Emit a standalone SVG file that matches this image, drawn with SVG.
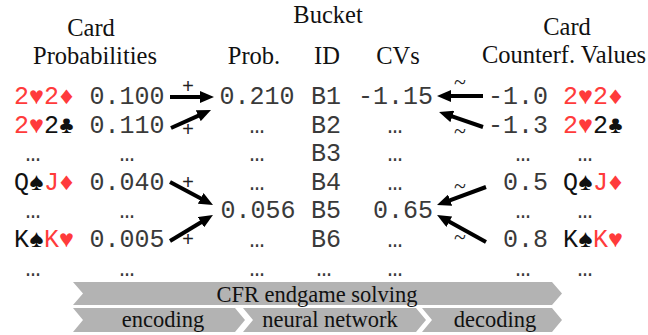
<svg xmlns="http://www.w3.org/2000/svg" width="648" height="335" viewBox="0 0 648 335">
<defs>
<style>
.hd{font-family:"Liberation Serif","Times New Roman",serif;font-size:24.5px;fill:#111;text-anchor:middle}
.mn{font-family:"Liberation Mono","Courier New","DejaVu Sans Mono",monospace;font-size:25px;fill:#3a3a3a}
.c{text-anchor:middle}
.e{text-anchor:end}
.r{fill:#ff3b3b}
.k{fill:#111}
.op{font-family:"Liberation Mono","Courier New",monospace;font-size:20px;fill:#222;text-anchor:middle}
.td{font-family:"Liberation Serif","Times New Roman",serif;font-size:22px;fill:#222;text-anchor:middle}
.ar{stroke:#000;stroke-width:4;fill:none;marker-end:url(#ah)}
.band{fill:#b3b3b3}
.bt{font-family:"Liberation Serif","Times New Roman",serif;font-size:22.5px;fill:#111;text-anchor:middle}
</style>
<marker id="ah" viewBox="0 0 14 12" refX="4" refY="6" markerWidth="14" markerHeight="12" markerUnits="userSpaceOnUse" orient="auto">
<path d="M0,0 L14,6 L0,12 z" fill="#000"/>
</marker>
</defs>
<rect width="648" height="335" fill="#fff"/>

<g id="headers">
<text class="hd" x="91" y="36">Card</text>
<text class="hd" x="95" y="64">Probabilities</text>
<text class="hd" x="328" y="23">Bucket</text>
<text class="hd" x="254" y="64">Prob.</text>
<text class="hd" x="327" y="64">ID</text>
<text class="hd" x="398" y="64">CVs</text>
<text class="hd" x="567" y="35">Card</text>
<text class="hd" x="564" y="63">Counterf. Values</text>
</g>

<g id="card-probabilities">
<text class="mn" x="14" y="104"><tspan class="r">2♥2♦</tspan></text>
<text class="mn c" x="127" y="104">0.100</text>
<text class="mn" x="14" y="132.6"><tspan class="r">2♥</tspan><tspan class="k">2♣</tspan></text>
<text class="mn c" x="127" y="132.6">0.110</text>
<text class="mn c" x="33" y="161.2">…</text>
<text class="mn c" x="127" y="161.2">…</text>
<text class="mn" x="14" y="189.8"><tspan class="k">Q♠</tspan><tspan class="r">J♦</tspan></text>
<text class="mn c" x="127" y="189.8">0.040</text>
<text class="mn c" x="33" y="218.4">…</text>
<text class="mn c" x="127" y="218.4">…</text>
<text class="mn" x="14" y="247"><tspan class="k">K♠</tspan><tspan class="r">K♥</tspan></text>
<text class="mn c" x="127" y="247">0.005</text>
<text class="mn c" x="33" y="275.6">…</text>
<text class="mn c" x="127" y="275.6">…</text>
</g>

<g id="bucket-prob">
<text class="mn c" x="257" y="104">0.210</text>
<text class="mn c" x="257" y="132.6">…</text>
<text class="mn c" x="257" y="161.2">…</text>
<text class="mn c" x="257" y="189.8">…</text>
<text class="mn c" x="258" y="218.4">0.056</text>
<text class="mn c" x="257" y="247">…</text>
<text class="mn c" x="257" y="275.6">…</text>
</g>

<g id="bucket-id">
<text class="mn" x="311" y="104">B1</text>
<text class="mn" x="311" y="132.6">B2</text>
<text class="mn" x="311" y="161.2">B3</text>
<text class="mn" x="311" y="189.8">B4</text>
<text class="mn" x="311" y="218.4">B5</text>
<text class="mn" x="311" y="247">B6</text>
<text class="mn c" x="324" y="275.6">…</text>
</g>

<g id="bucket-cvs">
<text class="mn e" x="433" y="104">-1.15</text>
<text class="mn c" x="395" y="132.6">…</text>
<text class="mn c" x="395" y="161.2">…</text>
<text class="mn c" x="395" y="189.8">…</text>
<text class="mn e" x="433" y="218.4">0.65</text>
<text class="mn c" x="395" y="247">…</text>
<text class="mn c" x="395" y="275.6">…</text>
</g>

<g id="card-values">
<text class="mn e" x="548" y="104">-1.0</text>
<text class="mn" x="563" y="104"><tspan class="r">2♥2♦</tspan></text>
<text class="mn e" x="548" y="132.6">-1.3</text>
<text class="mn" x="563" y="132.6"><tspan class="r">2♥</tspan><tspan class="k">2♣</tspan></text>
<text class="mn c" x="523" y="161.2">…</text>
<text class="mn c" x="585" y="161.2">…</text>
<text class="mn e" x="548" y="189.8">0.5</text>
<text class="mn" x="563" y="189.8"><tspan class="k">Q♠</tspan><tspan class="r">J♦</tspan></text>
<text class="mn c" x="523" y="218.4">…</text>
<text class="mn c" x="585" y="218.4">…</text>
<text class="mn e" x="548" y="247">0.8</text>
<text class="mn" x="563" y="247"><tspan class="k">K♠</tspan><tspan class="r">K♥</tspan></text>
<text class="mn c" x="523" y="275.6">…</text>
<text class="mn c" x="585" y="275.6">…</text>
</g>

<g id="connectors">
<line class="ar" x1="170" y1="97" x2="204" y2="97"/>
<line class="ar" x1="171" y1="128" x2="201.9" y2="114.1"/>
<line class="ar" x1="170" y1="182" x2="204.2" y2="200.3"/>
<line class="ar" x1="170" y1="241" x2="204.4" y2="220.2"/>
<line class="ar" x1="483" y1="96" x2="447" y2="96"/>
<line class="ar" x1="483" y1="127" x2="448.5" y2="115.2"/>
<line class="ar" x1="486" y1="187" x2="446.4" y2="201.6"/>
<line class="ar" x1="486" y1="242" x2="445.8" y2="219.8"/>
<text class="op" x="188" y="93">+</text>
<text class="op" x="188" y="136">+</text>
<text class="op" x="188" y="189">+</text>
<text class="op" x="188" y="246">+</text>
<text class="td" x="460" y="89">~</text>
<text class="td" x="460" y="138">~</text>
<text class="td" x="460" y="193">~</text>
<text class="td" x="460" y="244">~</text>
</g>

<g id="cfr-band">
<polygon class="band" points="73,282 552,282 562,293.5 552,305 73,305 83,293.5"/>
<text class="bt" x="317" y="302">CFR endgame solving</text>
</g>
<g id="encoding">
<polygon class="band" points="73,308 235,308 245,320 235,332 73,332 83,320"/>
<text class="bt" x="163" y="327">encoding</text>
</g>
<g id="neural-network">
<polygon class="band" points="243,308 416,308 426,320 416,332 243,332 253,320"/>
<text class="bt" x="330" y="327">neural network</text>
</g>
<g id="decoding">
<polygon class="band" points="422,308 552,308 562,320 552,332 422,332 432,320"/>
<text class="bt" x="495" y="327">decoding</text>
</g>
</svg>
